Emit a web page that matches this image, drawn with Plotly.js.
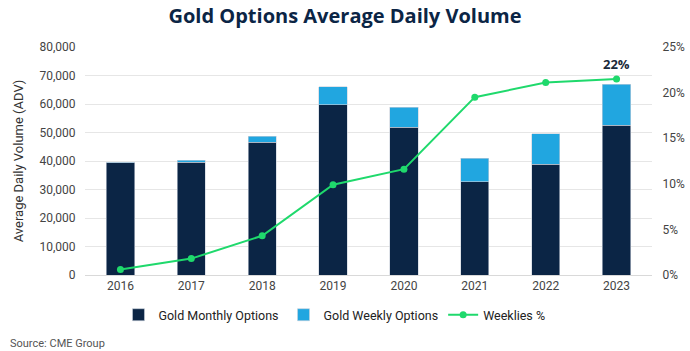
<!DOCTYPE html>
<html><head><meta charset="utf-8">
<script src="https://cdn.plot.ly/plotly-3.0.1.min.js"></script>
<style>html,body{margin:0;padding:0;background:#fff}#c{width:690px;height:351px}</style>
</head><body><div id="c"></div>
<script>
const years = ['2016','2017','2018','2019','2020','2021','2022','2023'];
const monthly = [39300, 39500, 46500, 59700, 51800, 32700, 38900, 52500];
const weekly = [300, 700, 2200, 6400, 7100, 8200, 10600, 14500];
const weekliesPct = [0.6, 1.8, 4.3, 9.9, 11.6, 19.5, 21.1, 21.5];
const yTicks = [0,10000,20000,30000,40000,50000,60000,70000,80000];
const y2Ticks = [0,5,10,15,20,25];
const y2Labels = ['0%','5%','10%','15%','20%','25%'];

const tickFont = {family:'Roboto, "Noto Sans", sans-serif', size:12, color:'#444'};
const traces = [
  {type:'bar', name:'Gold Monthly Options', x:years, y:monthly, marker:{color:'#0b2545', line:{color:'#c9d1db', width:0.6}}, width:0.4},
  {type:'bar', name:'Gold Weekly Options', x:years, y:weekly, marker:{color:'#21a6e0', line:{color:'#c9d1db', width:0.6}}, width:0.4},
  {type:'scatter', mode:'lines+markers', name:'Weeklies %', x:years, y:weekliesPct, yaxis:'y2', line:{color:'#1fd96c', width:2}, marker:{color:'#1fd96c', size:7}}
];
const layout = {
  width:690, height:351, barmode:'stack', showlegend:true,
  paper_bgcolor:'#fff', plot_bgcolor:'#fff',
  margin:{l:85, r:38, t:47, b:76},
  title:{text:'<b>Gold Options Average Daily Volume</b>', x:0.5, xanchor:'center', y:0.955, yanchor:'middle', font:{family:'"Open Sans", sans-serif', size:20, color:'#0b2545'}},
  xaxis:{type:'category', range:[-0.5, years.length-0.5], autorange:false, tickfont:tickFont, showline:true, linecolor:'#d9d9d9', ticks:'', showgrid:false},
  yaxis:{range:[0,80000], autorange:false, tickmode:'array', tickvals:yTicks, tickformat:',d', tickfont:tickFont, gridcolor:'#e6e6e6', zeroline:false,
    ticks:'outside', ticklen:6, tickcolor:'rgba(0,0,0,0)',
    title:{text:'Average Daily Volume (ADV)', standoff:12, font:{family:'Roboto, "Noto Sans", sans-serif', size:13, color:'#333'}}},
  yaxis2:{overlaying:'y', side:'right', range:[0,25], autorange:false, tickmode:'array', tickvals:y2Ticks, ticktext:y2Labels, tickfont:tickFont, showgrid:false, zeroline:false,
    ticks:'outside', ticklen:7, tickcolor:'rgba(0,0,0,0)'},
  legend:{orientation:'h', x:0.44, xanchor:'center', y:-0.11, yanchor:'top', font:{family:'Roboto, "Noto Sans", sans-serif', size:12.5, color:'#222'}, traceorder:'normal'},
  annotations:[
    {x:years.length-1, y:weekliesPct[7], yref:'y2', xref:'x', text:'<b>22%</b>', showarrow:false, yshift:15, font:{family:'"Open Sans", sans-serif', size:13, color:'#1a2a3a'}},
    {xref:'paper', yref:'paper', x:-0.135, y:-0.3, xanchor:'left', yanchor:'middle', text:'Source: CME Group', showarrow:false, font:{family:'Roboto, "Noto Sans", sans-serif', size:11, color:'#555'}}
  ]
};
Plotly.newPlot('c', traces, layout, {displayModeBar:false, staticPlot:true});
</script></body></html>
